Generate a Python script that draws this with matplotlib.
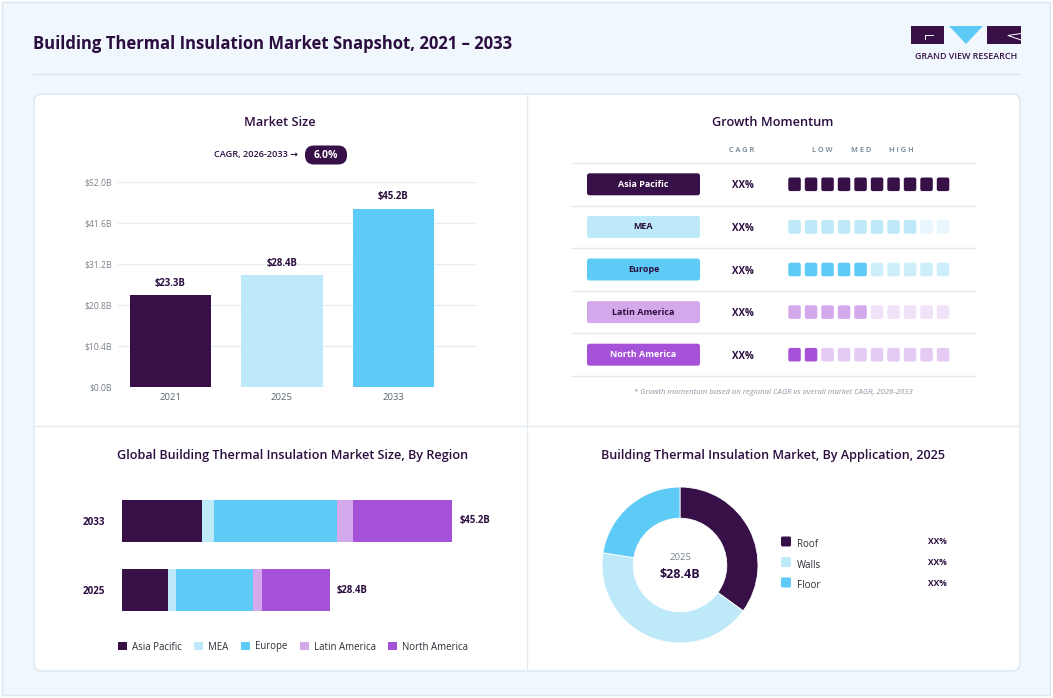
import matplotlib
matplotlib.use("Agg")
import matplotlib.pyplot as plt
from matplotlib.patches import FancyBboxPatch, Rectangle, Polygon

plt.rcParams['font.family'] = ['Open Sans', 'DejaVu Sans']

W, H = 1053, 698

# colours
DARK = '#371048'
LIGHT_BLUE = '#BDE9F9'
SKY = '#5ECBF6'
LAVENDER = '#D4A9EC'
PURPLE = '#A652D8'
TEXT = '#2B0E3F'

# market size
years = ['2021', '2025', '2033']
market_size = [23.3, 28.4, 45.2]
cagr_label = '6.0%'

# growth momentum (filled squares out of 10)
regions = ['Asia Pacific', 'MEA', 'Europe', 'Latin America', 'North America']
momentum = [10, 8, 5, 5, 2]
region_cagr = ['XX%', 'XX%', 'XX%', 'XX%', 'XX%']

# market size by region
bar_years = ['2025', '2033']
asia_pacific = [6.2, 10.9]
mea = [1.1, 1.6]
europe = [10.6, 16.9]
latin_america = [1.3, 2.2]
north_america = [9.2, 13.6]

# by application, 2025
applications = ['Roof', 'Walls', 'Floor']
app_share = [35.0, 42.5, 22.5]
app_labels = ['XX%', 'XX%', 'XX%']

region_colors = [DARK, LIGHT_BLUE, SKY, LAVENDER, PURPLE]
faded_colors = ['#2E0D3D', '#E8F6FD', '#CDEEFB', '#F0E2F8', '#E5CAF3']
label_text_colors = ['white', TEXT, TEXT, TEXT, 'white']
app_colors = [DARK, LIGHT_BLUE, SKY]


def px_axes(fig, x, y, w, h):
    return fig.add_axes([x / W, 1 - (y + h) / H, w / W, h / H])


fig = plt.figure(figsize=(W / 100, H / 100), dpi=100, facecolor='white')

# overlay in pixel coords
bg = px_axes(fig, 0, 0, W, H)
bg.set_xlim(0, W)
bg.set_ylim(H, 0)
bg.axis('off')
bg.set_zorder(0)

bg.add_patch(Rectangle((2, 2), 1048, 693, facecolor='#F0F7FD', edgecolor='#DCE6EF', lw=1))
bg.text(33, 44, 'Building Thermal Insulation Market Snapshot, 2021 – 2033', fontsize=12,
        fontweight='bold', color=TEXT, va='center', ha='left')
bg.plot([33, 1020], [74, 74], color='#DDE5ED', lw=1)

# logo
bg.add_patch(Rectangle((911, 26), 33, 18, facecolor=DARK, lw=0))
bg.plot([933, 925, 925], [34.5, 34.5, 39], color='white', lw=0.7)
bg.add_patch(Polygon([(949, 26), (983, 26), (966, 44)], closed=True, facecolor=SKY, lw=0))
bg.add_patch(Rectangle((987, 26), 34, 18, facecolor=DARK, lw=0))
bg.plot([1021, 1008, 1021], [33.5, 35.5, 40], color='white', lw=0.7)
bg.text(966, 56.5, 'GRAND VIEW RESEARCH', fontsize=6.4, fontweight='semibold', color=DARK,
        ha='center', va='center')

# card
bg.add_patch(FancyBboxPatch((34, 94), 986, 577, boxstyle='round,pad=0,rounding_size=8',
                            facecolor='white', edgecolor='#DCE6F0', lw=1))
bg.plot([527, 527], [95, 670], color='#E3EAF2', lw=1)
bg.plot([35, 1019], [426, 426], color='#E3EAF2', lw=1)

# ---------- Market Size ----------
bg.text(280, 122, 'Market Size', fontsize=9.2, fontweight='semibold', color=TEXT,
        ha='center', va='center')
bg.text(298, 155, 'CAGR, 2026-2033 →', fontsize=6.6, fontweight='semibold', color=TEXT,
        ha='right', va='center')
bg.add_patch(FancyBboxPatch((305, 145.5), 42, 19, boxstyle='round,pad=0,rounding_size=9',
                            facecolor=DARK, lw=0))
bg.text(326, 155.5, cagr_label, fontsize=7.5, fontweight='bold', color='white',
        ha='center', va='center')

ax1 = px_axes(fig, 118, 182, 359, 205)
ax1.set_zorder(1)
ax1.patch.set_alpha(0)
xpos = range(len(years))
ax1.bar(xpos, market_size, width=0.73, color=[DARK, LIGHT_BLUE, SKY], zorder=2)
for i, v in zip(xpos, market_size):
    ax1.text(i, v + 1.6, f'${v:.1f}B', ha='center', va='bottom', fontsize=6.9,
             fontweight='bold', color=TEXT)
ax1.set_xlim(-0.47, 2.75)
ax1.set_ylim(0, 52)
ticks = [0, 10.4, 20.8, 31.2, 41.6, 52.0]
ax1.set_yticks(ticks)
ax1.set_yticklabels([f'${t:.1f}B' for t in ticks], fontsize=6.2, color='#7A828C')
ax1.set_xticks(list(xpos))
ax1.set_xticklabels(years, fontsize=6.8, color='#5E6670')
ax1.grid(axis='y', color='#E8EEF4', lw=1, zorder=0)
ax1.tick_params(length=0, pad=4)
for s in ax1.spines.values():
    s.set_visible(False)

# ---------- Growth Momentum ----------
bg.text(773, 122, 'Growth Momentum', fontsize=9.2, fontweight='semibold', color=TEXT,
        ha='center', va='center')
for lbl, hx in [('C A G R', 742), ('L O W', 822), ('M E D', 861), ('H I G H', 901)]:
    bg.text(hx, 150, lbl, fontsize=5.3, fontweight='semibold', color='#6B7F8F',
            ha='center', va='center')

row_top, row_h = 163, 42.6
bg.plot([572, 975], [row_top, row_top], color='#E3E8EE', lw=1)
for i, (reg, n) in enumerate(zip(regions, momentum)):
    cy = row_top + row_h * (i + 0.5)
    bg.add_patch(FancyBboxPatch((587, cy - 11), 113, 22, boxstyle='round,pad=0,rounding_size=2.5',
                                facecolor=region_colors[i], lw=0))
    bg.text(643.5, cy, reg, fontsize=6.5, fontweight='bold', color=label_text_colors[i],
            ha='center', va='center')
    bg.text(743, cy + 1.5, region_cagr[i], fontsize=7, fontweight='bold', color=TEXT,
            ha='center', va='center')
    for j in range(10):
        c = region_colors[i] if j < n else faded_colors[i]
        bg.add_patch(FancyBboxPatch((788.3 + 16.5 * j, cy - 6.8), 12.5, 13.6,
                                    boxstyle='round,pad=0,rounding_size=2', facecolor=c, lw=0))
    bg.plot([572, 975], [row_top + row_h * (i + 1)] * 2, color='#E3E8EE', lw=1)
bg.text(773, 392, '* Growth momentum based on regional CAGR vs overall market CAGR, 2026-2033',
        fontsize=5.6, style='italic', color='#8A97A5', ha='center', va='center')

# ---------- By Region ----------
bg.text(293, 455, 'Global Building Thermal Insulation Market Size, By Region', fontsize=9.1,
        fontweight='semibold', color=TEXT, ha='center', va='center')
ax2 = px_axes(fig, 122.3, 486.5, 379.6, 138)
ax2.set_zorder(1)
ax2.patch.set_alpha(0)
series = [asia_pacific, mea, europe, latin_america, north_america]
left = [0.0] * len(bar_years)
ypos = list(range(len(bar_years)))
for vals, col, name in zip(series, region_colors, regions):
    ax2.barh(ypos, vals, left=left, height=0.61, color=col, label=name)
    left = [a + b for a, b in zip(left, vals)]
for y, tot in zip(ypos, left):
    ax2.text(tot + 1.0, y, f'${tot:.1f}B', va='center', ha='left', fontsize=6.9,
             fontweight='bold', color=TEXT)
ax2.set_xlim(0, 52)
ax2.set_ylim(-0.5, 1.5)
ax2.set_yticks(ypos)
ax2.set_yticklabels(bar_years, fontsize=7.1, fontweight='bold', color=TEXT)
ax2.set_xticks([])
ax2.tick_params(length=0, pad=12)
for s in ax2.spines.values():
    s.set_visible(False)
leg = ax2.legend(loc='center', bbox_to_anchor=(293 / W, 1 - 647 / H), bbox_transform=fig.transFigure,
                 ncol=5, frameon=False, fontsize=6.9, handlelength=0.95, handleheight=0.95,
                 handletextpad=0.5, columnspacing=1.3, borderaxespad=0)
for t in leg.get_texts():
    t.set_color('#2E2E3A')

# ---------- By Application ----------
bg.text(773, 455, 'Building Thermal Insulation Market, By Application, 2025', fontsize=9.1,
        fontweight='semibold', color=TEXT, ha='center', va='center')
ax3 = px_axes(fig, 602, 487, 156, 156)
ax3.set_zorder(1)
ax3.pie(app_share, colors=app_colors, startangle=90, counterclock=False,
        radius=1, wedgeprops=dict(width=0.4, edgecolor='white', linewidth=0.6))
ax3.set_xlim(-1, 1)
ax3.set_ylim(-1, 1)
ax3.set_aspect('equal')
ax3.text(0, 0.1, '2025', fontsize=6.8, color='#7A828C', ha='center', va='center')
ax3.text(0, -0.12, '$28.4B', fontsize=9, fontweight='bold', color=TEXT, ha='center', va='center')

for i, (app, lab) in enumerate(zip(applications, app_labels)):
    cy = 542 + 20.5 * i
    bg.add_patch(FancyBboxPatch((781, cy - 5.5), 10, 10, boxstyle='round,pad=0,rounding_size=1.5',
                                facecolor=app_colors[i], lw=0))
    bg.text(797, cy + 2.5, app, fontsize=7, color='#2E2E3A', ha='left', va='center')
    bg.text(937, cy, lab, fontsize=6, fontweight='bold', color=TEXT, ha='center', va='center')

fig.savefig('out.png', dpi=100, facecolor=fig.get_facecolor())
